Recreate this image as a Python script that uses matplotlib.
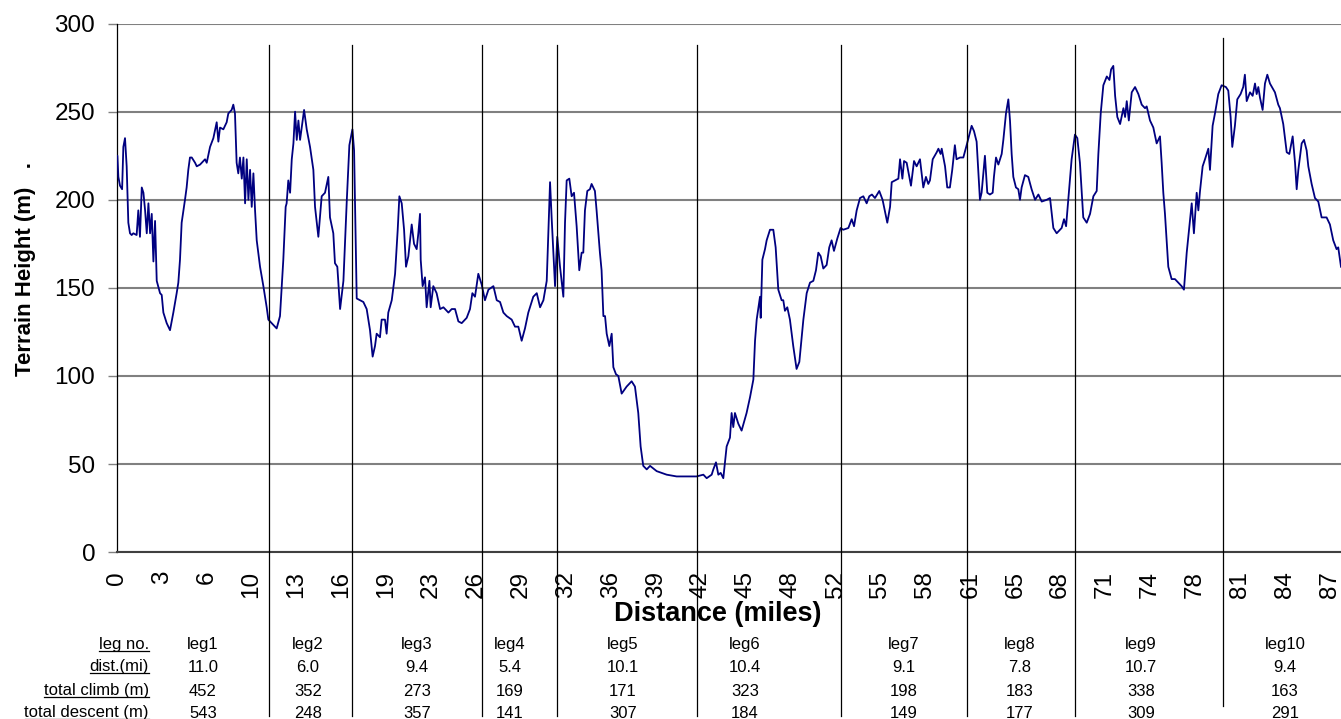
import numpy as np
import matplotlib
matplotlib.use("Agg")
import matplotlib.pyplot as plt
from matplotlib import transforms

plt.rcParams["font.family"] = ["Liberation Sans", "DejaVu Sans"]

# terrain profile (distance in miles, height in metres)
dist_mi = [
    0.00, 0.05, 0.12, 0.24, 0.39, 0.48, 0.60, 0.72, 0.84, 0.96, 1.08, 1.20, 1.44, 1.56, 1.68,
    1.81, 1.93, 2.05, 2.17, 2.29, 2.41, 2.53, 2.65, 2.77, 2.89, 3.13, 3.25, 3.37, 3.61, 3.85,
    4.09, 4.33, 4.45, 4.57, 4.69, 4.93, 5.05, 5.17, 5.29, 5.42, 5.66, 5.78, 6.02, 6.38, 6.50,
    6.74, 6.98, 7.22, 7.34, 7.46, 7.70, 7.94, 8.06, 8.30, 8.42, 8.54, 8.66, 8.78, 8.90, 9.03,
    9.15, 9.27, 9.39, 9.51, 9.63, 9.75, 9.87, 9.99, 10.11, 10.35, 10.59, 10.83, 10.95, 11.19, 11.55,
    11.79, 12.03, 12.20, 12.27, 12.39, 12.52, 12.64, 12.76, 12.88, 13.00, 13.12, 13.24, 13.53, 13.72, 13.96,
    14.20, 14.32, 14.56, 14.80, 15.04, 15.28, 15.40, 15.64, 15.76, 15.93, 16.13, 16.37, 16.61, 16.80, 17.02,
    17.14, 17.33, 17.57, 17.81, 18.05, 18.29, 18.48, 18.65, 18.77, 19.01, 19.13, 19.37, 19.49, 19.61, 19.86,
    20.10, 20.29, 20.41, 20.58, 20.75, 20.89, 21.06, 21.30, 21.47, 21.66, 21.78, 21.90, 21.95, 22.09, 22.26,
    22.38, 22.58, 22.67, 22.86, 23.10, 23.35, 23.59, 23.95, 24.19, 24.43, 24.67, 24.91, 25.27, 25.51, 25.68,
    25.87, 26.11, 26.35, 26.59, 26.84, 27.20, 27.44, 27.68, 27.92, 28.16, 28.52, 28.76, 29.00, 29.24, 29.48,
    29.72, 30.08, 30.33, 30.57, 30.81, 31.05, 31.29, 31.41, 31.65, 31.81, 32.01, 32.25, 32.37, 32.49, 32.68,
    32.85, 33.02, 33.21, 33.40, 33.57, 33.69, 33.81, 33.98, 34.17, 34.29, 34.53, 34.65, 34.89, 35.01, 35.14,
    35.26, 35.38, 35.57, 35.74, 35.86, 36.05, 36.22, 36.46, 36.82, 37.18, 37.42, 37.66, 37.83, 38.02, 38.27,
    38.51, 38.99, 39.71, 40.43, 41.39, 41.87, 42.36, 42.60, 42.96, 43.08, 43.27, 43.44, 43.61, 43.80, 44.04,
    44.28, 44.40, 44.52, 44.64, 44.88, 45.12, 45.48, 45.73, 45.97, 46.09, 46.21, 46.45, 46.50, 46.62, 46.81,
    46.93, 47.17, 47.41, 47.58, 47.77, 48.01, 48.13, 48.25, 48.42, 48.61, 48.85, 49.09, 49.29, 49.58, 49.82,
    50.06, 50.30, 50.49, 50.66, 50.83, 51.02, 51.26, 51.45, 51.62, 51.79, 52.03, 52.27, 52.46, 52.83, 53.07,
    53.24, 53.43, 53.67, 53.91, 54.15, 54.34, 54.53, 54.75, 55.06, 55.30, 55.64, 55.84, 55.96, 56.20, 56.44,
    56.56, 56.73, 56.85, 57.04, 57.35, 57.57, 57.76, 58.00, 58.24, 58.43, 58.60, 58.72, 58.92, 59.21, 59.33,
    59.49, 59.57, 59.81, 59.97, 60.16, 60.33, 60.52, 60.64, 60.89, 61.13, 61.37, 61.73, 61.90, 62.09, 62.33,
    62.45, 62.69, 62.86, 63.05, 63.25, 63.34, 63.49, 63.66, 63.90, 64.02, 64.21, 64.38, 64.50, 64.62, 64.74,
    64.93, 65.10, 65.22, 65.34, 65.58, 65.82, 66.06, 66.31, 66.55, 66.79, 67.15, 67.39, 67.63, 67.87, 68.23,
    68.40, 68.55, 68.71, 68.95, 69.19, 69.36, 69.55, 69.79, 70.04, 70.28, 70.52, 70.76, 70.88, 71.05, 71.24,
    71.49, 71.68, 71.80, 71.96, 72.09, 72.25, 72.45, 72.69, 72.81, 72.93, 73.08, 73.29, 73.53, 73.77, 74.01,
    74.25, 74.37, 74.61, 74.85, 75.09, 75.33, 75.45, 75.57, 75.69, 75.81, 75.93, 76.17, 76.41, 76.65, 76.89,
    77.06, 77.26, 77.45, 77.62, 77.78, 77.98, 78.10, 78.22, 78.41, 78.58, 78.82, 78.94, 79.13, 79.30, 79.54,
    79.78, 80.09, 80.26, 80.43, 80.55, 80.74, 80.91, 81.15, 81.34, 81.46, 81.59, 81.83, 82.02, 82.19, 82.31,
    82.43, 82.55, 82.74, 82.91, 83.08, 83.27, 83.63, 83.87, 83.99, 84.23, 84.48, 84.67, 84.91, 85.08, 85.20,
    85.32, 85.56, 85.73, 85.92, 86.04, 86.28, 86.52, 86.76, 87.00, 87.36, 87.60, 87.84, 88.08, 88.20, 88.40,
]
height_m = [
    225, 225, 213, 208, 206, 230, 235, 219, 187, 181, 180, 181, 180, 194, 179,
    207, 204, 194, 181, 198, 181, 192, 165, 188, 154, 147, 146, 136, 130, 126,
    136, 147, 153, 166, 187, 200, 207, 217, 224, 224, 221, 219, 220, 223, 221,
    230, 235, 244, 233, 241, 240, 244, 249, 251, 254, 249, 221, 215, 224, 212,
    224, 198, 223, 200, 217, 196, 215, 194, 177, 162, 151, 139, 132, 130, 127,
    134, 166, 196, 198, 211, 204, 223, 232, 250, 234, 245, 234, 251, 240, 230,
    217, 196, 179, 202, 204, 213, 190, 181, 164, 162, 138, 154, 199, 231, 240,
    228, 144, 143, 142, 138, 126, 111, 117, 124, 122, 132, 132, 124, 136, 143,
    158, 183, 202, 198, 183, 162, 168, 186, 175, 172, 181, 192, 166, 151, 156,
    139, 154, 139, 151, 147, 138, 139, 136, 138, 138, 131, 130, 133, 138, 147,
    145, 158, 152, 143, 149, 151, 143, 142, 136, 134, 132, 128, 128, 120, 127,
    136, 145, 147, 139, 143, 154, 210, 189, 151, 179, 162, 145, 187, 211, 212,
    202, 204, 185, 160, 170, 170, 194, 205, 206, 209, 205, 194, 170, 160, 134,
    134, 124, 117, 124, 105, 101, 100, 90, 94, 97, 94, 79, 60, 49, 47,
    49, 46, 44, 43, 43, 43, 44, 42, 44, 47, 51, 44, 45, 42, 60,
    65, 79, 71, 79, 73, 69, 79, 88, 98, 120, 132, 145, 133, 166, 172,
    177, 183, 183, 173, 149, 143, 143, 137, 139, 132, 117, 104, 108, 132, 147,
    153, 154, 160, 170, 168, 161, 163, 173, 177, 171, 178, 184, 183, 184, 189,
    185, 194, 201, 202, 198, 202, 203, 201, 205, 200, 187, 196, 210, 211, 212,
    223, 212, 222, 221, 208, 222, 219, 223, 207, 213, 209, 211, 223, 227, 229,
    226, 229, 219, 207, 207, 217, 231, 223, 224, 224, 231, 242, 239, 233, 200,
    204, 225, 204, 203, 204, 213, 224, 220, 226, 234, 249, 257, 245, 226, 213,
    207, 206, 200, 207, 214, 213, 206, 200, 203, 199, 200, 201, 184, 181, 184,
    189, 185, 200, 223, 237, 235, 221, 190, 187, 192, 202, 205, 226, 249, 265,
    270, 268, 274, 276, 259, 247, 243, 252, 247, 256, 245, 261, 264, 260, 254,
    252, 253, 245, 241, 232, 236, 221, 204, 192, 177, 162, 155, 155, 153, 151,
    149, 170, 185, 198, 181, 204, 194, 205, 219, 223, 229, 217, 242, 249, 260,
    265, 264, 262, 247, 230, 242, 257, 260, 264, 271, 256, 261, 259, 266, 260,
    264, 258, 251, 266, 271, 266, 261, 254, 252, 243, 227, 226, 236, 221, 206,
    217, 232, 234, 228, 219, 209, 201, 199, 190, 190, 186, 177, 172, 173, 162,
]

# category-style tick labels along the distance axis
tick_labels = ["0", "3", "6", "10", "13", "16", "19", "23", "26", "29", "32", "36", "39", "42",
               "45", "48", "52", "55", "58", "61", "65", "68", "71", "74", "78", "81", "84", "87"]

# leg summary table
row_labels = ["leg no.", "dist.(mi)", "total climb (m)", "total descent (m)"]
leg_names = ["leg1", "leg2", "leg3", "leg4", "leg5", "leg6", "leg7", "leg8", "leg9", "leg10"]
leg_dist = [11.0, 6.0, 9.4, 5.4, 10.1, 10.4, 9.1, 7.8, 10.7, 9.4]
leg_climb = [452, 352, 273, 169, 171, 323, 198, 183, 338, 163]
leg_descent = [543, 248, 357, 141, 307, 184, 149, 177, 309, 291]

# layout
W, H = 1341, 719
tick_step = 3.244
leg_label_x = [6.23, 13.81, 21.68, 28.40, 36.56, 45.37, 56.85, 65.23, 73.96, 84.35]
row_y_px = [645, 667, 691, 713]

fig = plt.figure(figsize=(W / 100, H / 100), dpi=100)
ax = fig.add_axes([116.7 / W, 1 - 552.2 / H, 1 - 116.7 / W, (552.2 - 23.6) / H])

ax.plot(dist_mi, height_m, color="#000080", lw=1.3, zorder=3)

ax.set_xlim(0, 88.4)
ax.set_ylim(0, 300)
ax.set_yticks(range(0, 301, 50))
ax.grid(axis="y", color="#808080", lw=1.5)
ax.set_axisbelow(True)
for s in ["top", "right"]:
    ax.spines[s].set_visible(False)
ax.spines["left"].set_color("black")
ax.spines["left"].set_linewidth(0.9)
ax.spines["bottom"].set_color("#404040")
ax.spines["bottom"].set_linewidth(1.5)
ax.tick_params(axis="y", length=6.5, width=1, color="#808080", pad=9, labelsize=17.5)

ax.set_xticks(np.arange(len(tick_labels)) * tick_step)
ax.set_xticklabels(tick_labels, rotation=90, fontsize=17.5)
ax.tick_params(axis="x", length=0, pad=13.5)

# leg boundaries, running down into the table
ends = np.cumsum(leg_dist)[:-1]
tr = transforms.blended_transform_factory(ax.transData, fig.transFigure)
for i, xb in enumerate(ends):
    top, bot = (38, 706) if i == len(ends) - 1 else (45, 716)
    ax.plot([xb, xb], [1 - top / H, 1 - bot / H], color="black", lw=0.9,
            transform=tr, clip_on=False, zorder=4)

fig.text(25 / W, 1 - 269 / H, "Terrain Height (m)   .", rotation=90, ha="center",
         va="center", fontsize=16, fontweight="bold")
fig.text(718 / W, 1 - 614 / H, "Distance (miles)", ha="center", va="center",
         fontsize=19.5, fontweight="bold")

# table
row_texts = []
for r, lab in enumerate(row_labels):
    row_texts.append(fig.text(149 / W, 1 - row_y_px[r] / H, lab, ha="right", va="center",
                              fontsize=12))
rows = [leg_names, [f"{d:.1f}" for d in leg_dist], [str(v) for v in leg_climb],
        [str(v) for v in leg_descent]]
for r, vals in enumerate(rows):
    for xv, v in zip(leg_label_x, vals):
        ax.text(xv, 1 - row_y_px[r] / H, v, transform=tr, ha="center", va="center",
                fontsize=12, clip_on=False)

# underline the row labels
fig.canvas.draw()
renderer = fig.canvas.get_renderer()
for t in row_texts:
    bb = t.get_window_extent(renderer)
    y = (bb.y0 + 1.5) / H
    fig.add_artist(plt.Line2D([bb.x0 / W, bb.x1 / W], [y, y], color="black", lw=0.9,
                              transform=fig.transFigure))

fig.savefig("out.png", dpi=100)
